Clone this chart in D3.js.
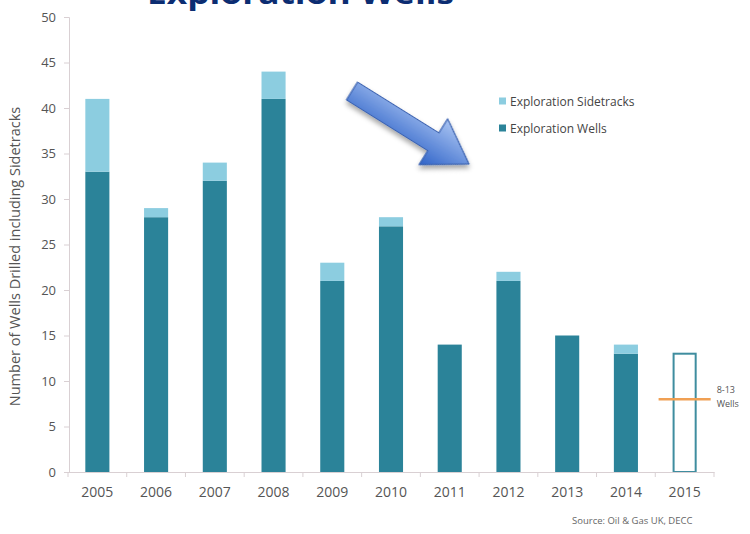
<!DOCTYPE html>
<html>
<head>
<meta charset="utf-8">
<script src="https://cdn.jsdelivr.net/npm/d3@7"></script>
<style>
  html, body { margin: 0; padding: 0; background: #fff; }
  svg { display: block; }
  text { font-family: "Open Sans", "Noto Sans", sans-serif; }
</style>
</head>
<body>
<svg id="chart" width="750" height="534"></svg>
<script>
// Exploration wells drilled per year, split into wells and sidetracks
const years = ["2005", "2006", "2007", "2008", "2009", "2010", "2011", "2012", "2013", "2014", "2015"];
const explorationWells = [33, 28, 32, 41, 21, 27, 14, 21, 15, 13, 0];
const explorationSidetracks = [8, 1, 2, 3, 2, 1, 0, 1, 0, 1, 0];
// 2015 outlook: a range of 8 to 13 wells
const forecastYear = "2015";
const forecastHigh = 13;
const forecastLow = 8;
const forecastLabel = ["8-13", "Wells"];
const yTicks = [0, 5, 10, 15, 20, 25, 30, 35, 40, 45, 50];
const seriesNames = ["Exploration Sidetracks", "Exploration Wells"];
const titleText = "Exploration Wells";
const yTitle = "Number of Wells Drilled including Sidetracks";
const sourceText = "Source: Oil & Gas UK, DECC";

const colWells = "#2b8399";
const colSide = "#8ccde0";
const colAxis = "#d9d0d3";
const colText = "#555";

const svg = d3.select("#chart");

const x = d3.scaleBand()
  .domain(years)
  .range([68, 714])
  .paddingInner(0.59)
  .paddingOuter(0.295);

const y = d3.scaleLinear().domain([0, 50]).range([472, 17]);

// Title, running off the top edge
svg.append("text")
  .attr("x", 147).attr("y", 4)
  .attr("font-size", 30).attr("font-weight", 700)
  .attr("fill", "#0c2d72")
  .attr("textLength", 307)
  .attr("lengthAdjust", "spacingAndGlyphs")
  .text(titleText);

// Stacked bars
const rows = years.map((yr, i) => ({ year: yr, wells: explorationWells[i], side: explorationSidetracks[i] }));
const stack = d3.stack().keys(["wells", "side"])(rows);

svg.append("g").selectAll("g")
  .data(stack)
  .join("g")
  .attr("fill", d => d.key === "wells" ? colWells : colSide)
  .selectAll("rect")
  .data(d => d.filter(p => p[1] > p[0]))
  .join("rect")
  .attr("x", d => x(d.data.year))
  .attr("width", x.bandwidth())
  .attr("y", d => y(d[1]))
  .attr("height", d => y(d[0]) - y(d[1]));

// Forecast bar (outline only)
svg.append("rect")
  .attr("x", x(forecastYear) + 1)
  .attr("width", x.bandwidth() - 2)
  .attr("y", y(forecastHigh))
  .attr("height", y(0) - y(forecastHigh))
  .attr("fill", "#fff")
  .attr("stroke", "#3f8d9f")
  .attr("stroke-width", 2);

// Low end of the forecast range
svg.append("line")
  .attr("x1", x(forecastYear) - 14)
  .attr("x2", x(forecastYear) + x.bandwidth() + 14)
  .attr("y1", y(forecastLow)).attr("y2", y(forecastLow))
  .attr("stroke", "#f0a054").attr("stroke-width", 2.5);

svg.append("g")
  .selectAll("text")
  .data(forecastLabel)
  .join("text")
  .attr("x", x(forecastYear) + x.bandwidth() + 20)
  .attr("y", (d, i) => y(forecastLow) - 6 + i * 14)
  .attr("font-size", 9)
  .attr("fill", colText)
  .text(d => d);

// Y axis
const yAxis = svg.append("g")
  .attr("transform", "translate(69,0)")
  .call(d3.axisLeft(y).tickValues(yTicks).tickSize(5).tickPadding(8));
yAxis.select(".domain").attr("stroke", colAxis);
yAxis.selectAll(".tick line").attr("stroke", colAxis);
yAxis.selectAll(".tick text").attr("font-size", 13).attr("fill", colText)
  .attr("font-family", "'Open Sans', sans-serif");

// X axis with ticks between categories
const xAxis = svg.append("g")
  .attr("transform", `translate(0,${y(0)})`)
  .call(d3.axisBottom(x).tickSize(0).tickPadding(15));
xAxis.select(".domain").attr("stroke", colAxis);
xAxis.selectAll(".tick text").attr("font-size", 14).attr("fill", colText)
  .attr("font-family", "'Open Sans', sans-serif");
const step = x.step();
svg.append("g").selectAll("line")
  .data(d3.range(years.length + 1).map(i => x.range()[0] + i * step))
  .join("line")
  .attr("x1", d => d).attr("x2", d => d)
  .attr("y1", y(0)).attr("y2", y(0) + 5)
  .attr("stroke", colAxis);

// Y axis title
svg.append("text")
  .attr("transform", `translate(20,${(y(0) + y(50)) / 2 + 12}) rotate(-90)`)
  .attr("text-anchor", "middle")
  .attr("font-size", 14.5)
  .attr("fill", colText)
  .text(yTitle);

// Legend
const legend = svg.append("g").attr("transform", "translate(499,101)");
legend.selectAll("g")
  .data(seriesNames)
  .join("g")
  .attr("transform", (d, i) => `translate(0,${i * 27})`)
  .each(function (d, i) {
    const g = d3.select(this);
    g.append("rect").attr("x", 0).attr("y", -3.5).attr("width", 7).attr("height", 7)
      .attr("fill", i === 0 ? colSide : colWells);
    g.append("text").attr("x", 11).attr("y", 4.5)
      .attr("font-size", 12).attr("fill", "#444").text(d);
  });

// Downward arrow
const defs = svg.append("defs");
const grad = defs.append("linearGradient").attr("id", "arrowFill")
  .attr("x1", "0").attr("y1", "0").attr("x2", "0").attr("y2", "1");
grad.append("stop").attr("offset", "0%").attr("stop-color", "#a9c4f2");
grad.append("stop").attr("offset", "100%").attr("stop-color", "#2f63c8");
const shadow = defs.append("filter").attr("id", "arrowShadow")
  .attr("x", "-20%").attr("y", "-20%").attr("width", "150%").attr("height", "160%");
shadow.append("feDropShadow").attr("dx", 2).attr("dy", 3).attr("stdDeviation", 2.5)
  .attr("flood-color", "#000").attr("flood-opacity", 0.35);

const tail = [352, 91], tip = [469, 164];
const ang = Math.atan2(tip[1] - tail[1], tip[0] - tail[0]) * 180 / Math.PI;
const len = Math.hypot(tip[0] - tail[0], tip[1] - tail[1]);
const shaftW = 21, headW = 54, headL = 42;
const arrowPath = d3.path();
arrowPath.moveTo(0, -shaftW / 2);
arrowPath.lineTo(len - headL, -shaftW / 2);
arrowPath.lineTo(len - headL, -headW / 2);
arrowPath.lineTo(len, 0);
arrowPath.lineTo(len - headL, headW / 2);
arrowPath.lineTo(len - headL, shaftW / 2);
arrowPath.lineTo(0, shaftW / 2);
arrowPath.closePath();
svg.append("path")
  .attr("d", arrowPath.toString())
  .attr("transform", `translate(${tail[0]},${tail[1]}) rotate(${ang})`)
  .attr("fill", "url(#arrowFill)")
  .attr("stroke", "#3a62b0").attr("stroke-width", 1.2)
  .attr("stroke-linejoin", "round")
  .attr("filter", "url(#arrowShadow)");

// Source note
svg.append("text")
  .attr("x", 572).attr("y", 524)
  .attr("font-size", 9.5).attr("fill", "#666")
  .text(sourceText);
</script>
</body>
</html>
